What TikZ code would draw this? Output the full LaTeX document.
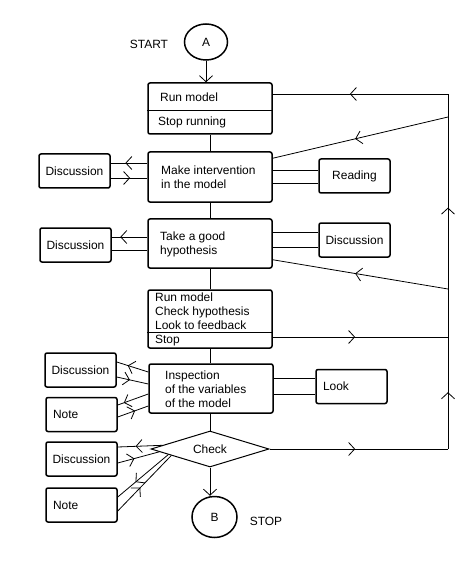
\documentclass[tikz,border=0pt]{standalone}
\usepackage{fontspec}
\setmainfont{Liberation Sans}
\usetikzlibrary{shapes.geometric,arrows.meta,decorations.markings,calc}

\tikzset{
  block/.style={draw, line width=1.5bp, rounded corners=2bp, minimum width=124bp, inner sep=0pt},
  sidebox/.style={draw, line width=1.5bp, rounded corners=2bp, minimum width=71bp, minimum height=34bp, inner sep=0pt},
  leftbox/.style={sidebox, align=left, text width=57bp, inner xsep=7bp},
  term/.style={ellipse, draw, line width=1.5bp, inner sep=0pt},
  link/.style={line width=0.8bp},
  barb/.tip={Straight Barb[length=6bp,width=13bp]},
  midarrow/.style={postaction={decorate,decoration={markings,mark=at position #1 with {\arrow{barb}}}}}
}

\begin{document}
\begin{tikzpicture}[x=1bp, y=-1bp, every node/.style={font=\fontsize{12}{14}\selectfont}]
        \useasboundingbox (0,0) rectangle (462,561);

        % Начало и конец
        \node[term, minimum width=43bp, minimum height=36bp] (A) at (206,42) {A};
        \node (start) at (149,44) {START};
        \node[term, minimum width=45bp, minimum height=41bp] (B) at (214.5,517) {B};
        \node (stop) at (266,521) {STOP};

        % Основные блоки (сверху вниз)
        \node[block, minimum height=51bp] (run) at (210,108.5) {};
        \node[block, minimum height=50bp] (interv) at (210,177) {};
        \node[block, minimum height=49bp] (hyp) at (210,243.5) {};
        \node[block, minimum height=58bp] (feed) at (210,319) {};
        \node[block, minimum height=49bp] (insp) at (211,388.5) {};
        \node[diamond, draw, line width=1bp, shape aspect=3.3, minimum width=118bp, minimum height=36bp, inner sep=0pt] (check) at (210,449) {Check};

        % Разделители внутри блоков
        \draw[line width=1bp] (run.west |- 0,111) -- (run.east |- 0,111);
        \draw[line width=1bp] (feed.west |- 0,332) -- (feed.east |- 0,332);

        % Тексты блоков
        \node[anchor=west, inner sep=0pt] (runtxt) at (160,97) {Run model};
        \node[anchor=west, inner sep=0pt] (stoptxt) at (158,122) {Stop running};
        \node[anchor=west, align=left, inner sep=0pt] (intervtxt) at (161,177.5) {Make intervention\\in the model};
        \node[anchor=west, align=left, inner sep=0pt] (hyptxt) at (160,244) {Take a good\\hypothesis};
        \node[anchor=west, align=left, inner sep=0pt] (feedtxt) at (155,311) {Run model\\Check hypothesis\\Look to feedback};
        \node[anchor=west, inner sep=0pt] (feedstop) at (155,341) {Stop};
        \node[anchor=west, align=left, inner sep=0pt] (insptxt) at (165,389) {Inspection\\of the variables\\of the model};

        % Боковые блоки
        \node[sidebox] (disc1) at (74.5,171) {Discussion};
        \node[sidebox] (read) at (354.5,176) {Reading};
        \node[sidebox] (disc2) at (75.5,245) {Discussion};
        \node[sidebox] (disc3) at (354.5,240) {Discussion};
        \node[sidebox] (disc4) at (80.5,370) {Discussion};
        \node[leftbox] (note1) at (81.5,414.5) {Note};
        \node[leftbox] (look) at (351.5,386.5) {Look};
        \node[sidebox] (disc5) at (81.5,459) {Discussion};
        \node[leftbox] (note2) at (81.5,505) {Note};

        % Точки на правой линии обратной связи
        \coordinate (r1) at (448,94);
        \coordinate (r2) at (448,117);
        \coordinate (r3) at (448,289);
        \coordinate (r4) at (448,337);
        \coordinate (r6) at (448,449);

        % Главная вертикаль
        \draw[link, -barb] (A.south) -- (A.south |- run.north);
        \draw[link] (run) -- (interv);
        \draw[link] (interv) -- (hyp);
        \draw[link] (hyp) -- (feed);
        \draw[link] (feed.south) -- (feed.south |- insp.north);
        \draw[link] (insp.south -| check.north) -- (check.north);
        \draw[link, -barb] (check.south) -- (check.south |- B.north);

        % Обратная связь справа
        \draw[link, midarrow=0.56] (r1) -- (run.east |- r1);
        \draw[link, midarrow=0.16, midarrow=0.68] (r6) -- (r1);
        \draw[link, midarrow=0.53] (r2) -- ([yshift=-7bp]interv.north east);
        \draw[link, midarrow=0.53] (r3) -- ([yshift=9bp]hyp.south east);
        \draw[link, midarrow=0.47] (feed.east |- r4) -- (r4);
        \draw[link, midarrow=0.48] (check.east) -- (r6);

        % Связи с боковыми блоками
        \draw[link, midarrow=0.6] (interv.west |- 0,163) -- (disc1.east |- 0,163);
        \draw[link, midarrow=0.53] (disc1.east |- 0,178) -- (interv.west |- 0,178);
        \draw[link] (interv.east |- 0,170) -- (read.west |- 0,170);
        \draw[link] (interv.east |- 0,183) -- (read.west |- 0,183);
        \draw[link, midarrow=0.76] (hyp.west |- 0,237) -- (disc2.east |- 0,237);
        \draw[link] (hyp.west |- 0,250) -- (disc2.east |- 0,250);
        \draw[link] (hyp.east |- 0,232) -- (disc3.west |- 0,232);
        \draw[link] (hyp.east |- 0,247) -- (disc3.west |- 0,247);
        \draw[link, midarrow=0.65] (insp.west |- 0,372) -- (disc4.east |- 0,362);
        \draw[link, midarrow=0.42] (disc4.east |- 0,377) -- (insp.west |- 0,384);
        \draw[link, midarrow=0.8] (insp.west |- 0,394) -- (note1.east |- 0,405);
        \draw[link, midarrow=0.57] (note1.east |- 0,417) -- (insp.west |- 0,406);
        \draw[link] (insp.east |- 0,378) -- (look.west |- 0,378);
        \draw[link] (insp.east |- 0,394) -- (look.west |- 0,394);
        \draw[link, midarrow=0.6] ($(check.west)!0.2!(check.north)$) -- (disc5.east |- 0,447);
        \draw[link, midarrow=0.4] (disc5.east |- 0,463) -- ($(check.west)!0.15!(check.south)$);
        \draw[link, midarrow=0.65] ($(check.west)!0.3!(check.south)$) -- (note2.east |- 0,497);
        \draw[link, midarrow=0.42] (note2.east |- 0,511) -- ($(check.west)!0.35!(check.south)$);

\end{tikzpicture}
\end{document}
